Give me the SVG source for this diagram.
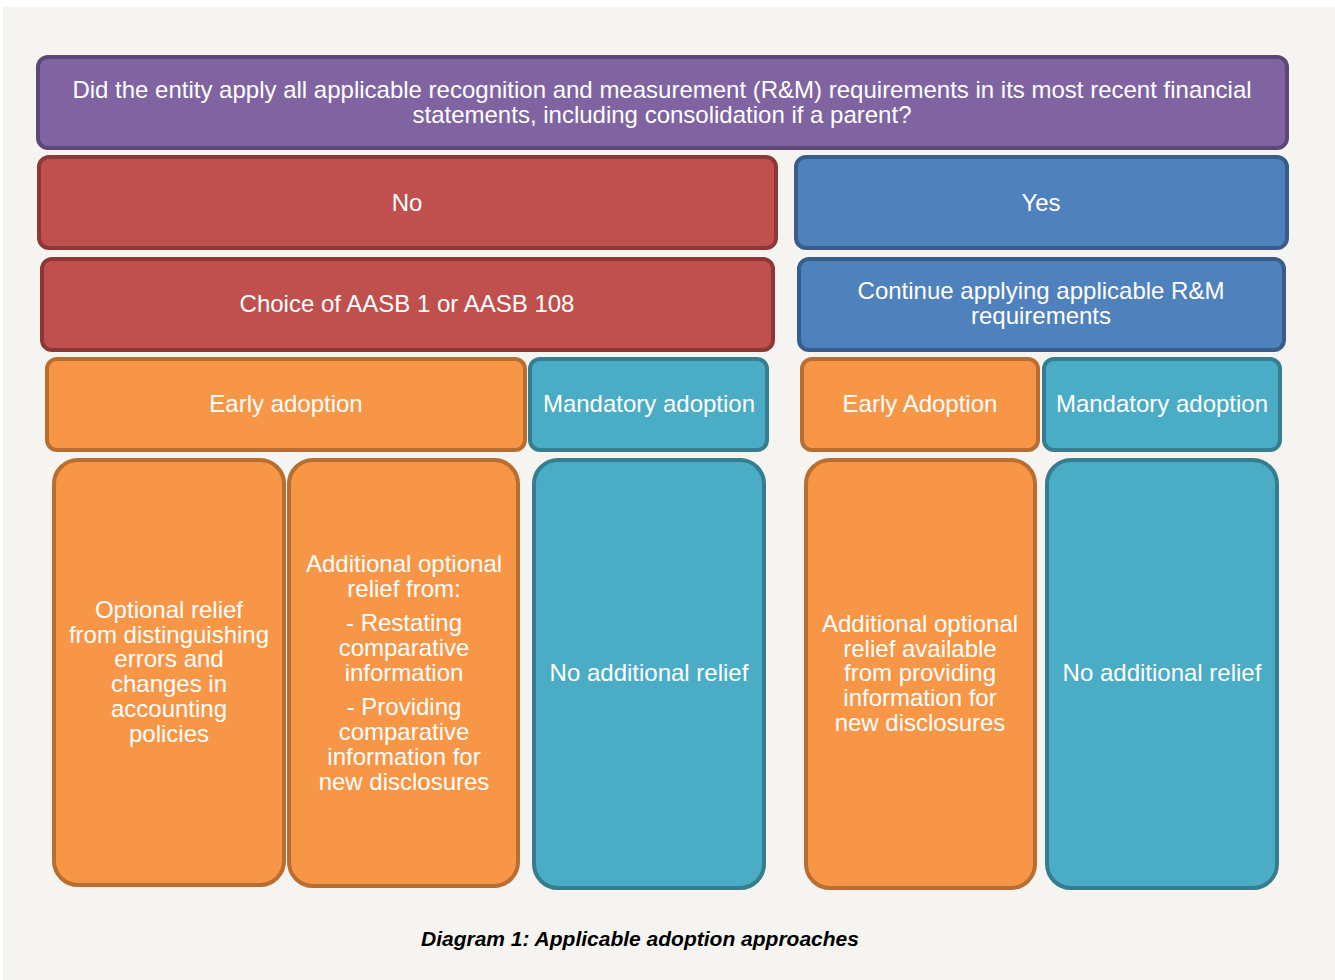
<svg xmlns="http://www.w3.org/2000/svg" width="1335" height="980" viewBox="0 0 1335 980">
  <style>
    .lbl { font-family: "Liberation Sans", Arial, sans-serif; font-size: 24px; fill: #ffffff; text-anchor: middle; }
    .cap { font-family: "Liberation Sans", Arial, sans-serif; font-size: 21px; font-weight: bold; font-style: italic; fill: #000000; text-anchor: middle; }
    .purple { fill: #8064a2; stroke: #5c4776; stroke-width: 4; }
    .red { fill: #c0504d; stroke: #8c3836; stroke-width: 4; }
    .blue { fill: #4f81bd; stroke: #385d8a; stroke-width: 4; }
    .orange { fill: #f79646; stroke: #b86d31; stroke-width: 4; }
    .teal { fill: #4bacc6; stroke: #367d90; stroke-width: 4; }
  </style>
  <rect x="0" y="0" width="1335" height="980" fill="#ffffff"/>
  <rect x="3" y="7" width="1332" height="973" fill="#f5f4f0"/>

  <g id="question">
    <rect class="purple" x="38" y="57" width="1249" height="91" rx="10"/>
    <text class="lbl" x="662" y="97.5">Did the entity apply all applicable recognition and measurement (R&amp;M) requirements in its most recent financial</text>
    <text class="lbl" x="662" y="122.5">statements, including consolidation if a parent?</text>
  </g>

  <g id="no">
    <rect class="red" x="39" y="157" width="737" height="91" rx="10"/>
    <text class="lbl" x="407" y="210.5">No</text>
  </g>
  <g id="yes">
    <rect class="blue" x="796" y="157" width="491" height="91" rx="10"/>
    <text class="lbl" x="1041" y="210.5">Yes</text>
  </g>

  <g id="choice">
    <rect class="red" x="42" y="259" width="731" height="91" rx="10"/>
    <text class="lbl" x="407" y="311.5">Choice of AASB 1 or AASB 108</text>
  </g>
  <g id="continue">
    <rect class="blue" x="799" y="259" width="485" height="91" rx="10"/>
    <text class="lbl" x="1041" y="298.5">Continue applying applicable R&amp;M</text>
    <text class="lbl" x="1041" y="323.5">requirements</text>
  </g>

  <g id="early-left">
    <rect class="orange" x="47" y="359" width="478" height="91" rx="10"/>
    <text class="lbl" x="286" y="411.5">Early adoption</text>
  </g>
  <g id="mandatory-left">
    <rect class="teal" x="530" y="359" width="237" height="91" rx="10"/>
    <text class="lbl" x="649" y="411.5">Mandatory adoption</text>
  </g>
  <g id="early-right">
    <rect class="orange" x="802" y="359" width="236" height="91" rx="10"/>
    <text class="lbl" x="920" y="411.5">Early Adoption</text>
  </g>
  <g id="mandatory-right">
    <rect class="teal" x="1044" y="359" width="236" height="91" rx="10"/>
    <text class="lbl" x="1162" y="411.5">Mandatory adoption</text>
  </g>

  <g id="relief-errors">
    <rect class="orange" x="54" y="460" width="230" height="425" rx="24"/>
    <text class="lbl" x="169" y="617.5">Optional relief</text>
    <text class="lbl" x="169" y="642.5">from distinguishing</text>
    <text class="lbl" x="169" y="667">errors and</text>
    <text class="lbl" x="169" y="691.5">changes in</text>
    <text class="lbl" x="169" y="716.5">accounting</text>
    <text class="lbl" x="169" y="741.5">policies</text>
  </g>
  <g id="relief-comparatives">
    <rect class="orange" x="289" y="460" width="229" height="426" rx="24"/>
    <text class="lbl" x="404" y="571.5">Additional optional</text>
    <text class="lbl" x="404" y="596.5">relief from:</text>
    <text class="lbl" x="404" y="630.5">- Restating</text>
    <text class="lbl" x="404" y="655.5">comparative</text>
    <text class="lbl" x="404" y="680.5">information</text>
    <text class="lbl" x="404" y="714.5">- Providing</text>
    <text class="lbl" x="404" y="739.5">comparative</text>
    <text class="lbl" x="404" y="764.5">information for</text>
    <text class="lbl" x="404" y="789.5">new disclosures</text>
  </g>
  <g id="no-relief-left">
    <rect class="teal" x="534" y="460" width="230" height="428" rx="24"/>
    <text class="lbl" x="649" y="680.5">No additional relief</text>
  </g>
  <g id="relief-disclosures">
    <rect class="orange" x="806" y="460" width="229" height="428" rx="24"/>
    <text class="lbl" x="920" y="631.5">Additional optional</text>
    <text class="lbl" x="920" y="656.5">relief available</text>
    <text class="lbl" x="920" y="681">from providing</text>
    <text class="lbl" x="920" y="705.5">information for</text>
    <text class="lbl" x="920" y="730.5">new disclosures</text>
  </g>
  <g id="no-relief-right">
    <rect class="teal" x="1047" y="460" width="230" height="428" rx="24"/>
    <text class="lbl" x="1162" y="680.5">No additional relief</text>
  </g>

  <g id="connectors"></g>

  <text class="cap" x="640" y="946">Diagram 1: Applicable adoption approaches</text>
</svg>
